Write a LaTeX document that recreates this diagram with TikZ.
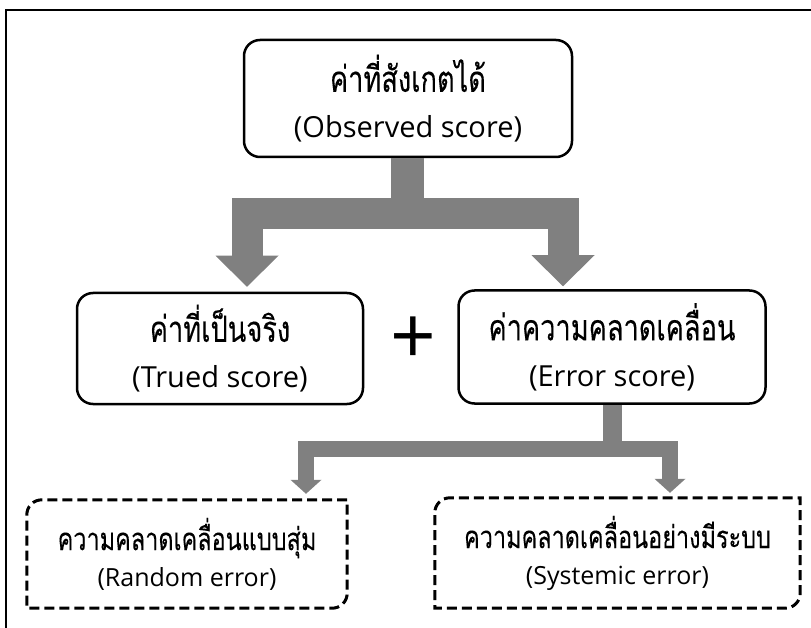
\documentclass[tikz,border=0pt]{standalone}
\usepackage{fontspec}
\setmainfont{Open Sans}
\newfontfamily\thaifont[Script=Thai, Scale=1.25, FakeStretch=0.75, FakeBold=0.15]{Loma}
\usetikzlibrary{arrows.meta,calc}
\definecolor{flowgray}{RGB}{128,128,128}

\begin{document}
\begin{tikzpicture}[
    x=1pt, y=-1pt,
    scorebox/.style={rectangle, draw=black, line width=2.5pt, rounded corners=16pt, align=center, font=\fontsize{29}{46}\selectfont},
    errbox/.style={rectangle, align=center, font=\fontsize{25}{36}\selectfont},
    dashline/.style={draw=black, line width=3pt, dash pattern=on 10pt off 5pt},
    bigflow/.style={draw=flowgray, line width=31pt, line join=miter, {Triangle[width=63pt, length=31pt, line width=0pt]}-{Triangle[width=63pt, length=31pt, line width=0pt]}},
    smallflow/.style={draw=flowgray, line width=16pt, line join=miter, {Triangle[width=31pt, length=14pt, line width=0pt]}-{Triangle[width=31pt, length=14pt, line width=0pt]}}
]
\useasboundingbox (0,0) rectangle (811,628);
\fill[white] (0,0) rectangle (811,628);
\clip (0,0) rectangle (811,628);

% frame
\draw[line width=2pt] (6,660) -- (6,10) -- (840,10);

% Top: observed score
\node[scorebox, minimum width=328pt, minimum height=117pt] (observed) at (408,98.5) {{\thaifont ค่าที่สังเกตได้}\\(Observed score)};

% Middle: true score + error score
\node[scorebox, minimum width=286pt, minimum height=111pt] (trued) at (220,348.5) {{\thaifont ค่าที่เป็นจริง}\\(Trued score)};
\node[scorebox, minimum width=307pt, minimum height=113pt] (errscore) at (612,347) {{\thaifont ค่าความคลาดเคลื่อน}\\(Error score)};
\node[font=\fontsize{80}{80}\selectfont] (plus) at (413,341) {+};

% Bottom: two kinds of error
\node[errbox, minimum width=320pt, minimum height=108pt] (randerr) at (187,554) {{\thaifont ความคลาดเคลื่อนแบบสุ่ม}\\(Random error)};
\node[errbox, minimum width=365pt, minimum height=110pt] (syserr) at (617.5,553) {{\thaifont ความคลาดเคลื่อนอย่างมีระบบ}\\(Systemic error)};

\draw[dashline] (randerr.north) -- (randerr.north east) [rounded corners=15pt] -- (randerr.south east) [sharp corners] -- (randerr.south west) [rounded corners=15pt] -- (randerr.north west) [sharp corners] -- cycle;
\draw[dashline] (syserr.north) -- (syserr.north east) [rounded corners=15pt] -- (syserr.south east) [sharp corners] -- (syserr.south west) [rounded corners=15pt] -- (syserr.north west) [sharp corners] -- cycle;

% Split arrows
\coordinate (split) at ($(observed.south)+(-1,55)$);
\coordinate (tipT) at ($(trued.north)+(27,-5)$);
\coordinate (tipE) at ($(errscore.north)+(-49,-3)$);
\draw[draw=flowgray, line width=33pt] (observed.south) ++(-1,0) -- (split);
\draw[bigflow] (tipT) |- (split) -| (tipE);

\coordinate (split2) at ($(errscore.south)+(0,44)$);
\coordinate (tipR) at ($(randerr.north)+(119,-6)$);
\coordinate (tipS) at ($(syserr.north)+(52.5,-5)$);
\draw[draw=flowgray, line width=19pt] (errscore.south) -- (split2);
\draw[smallflow] (tipR) |- (split2) -| (tipS);

\end{tikzpicture}
\end{document}
